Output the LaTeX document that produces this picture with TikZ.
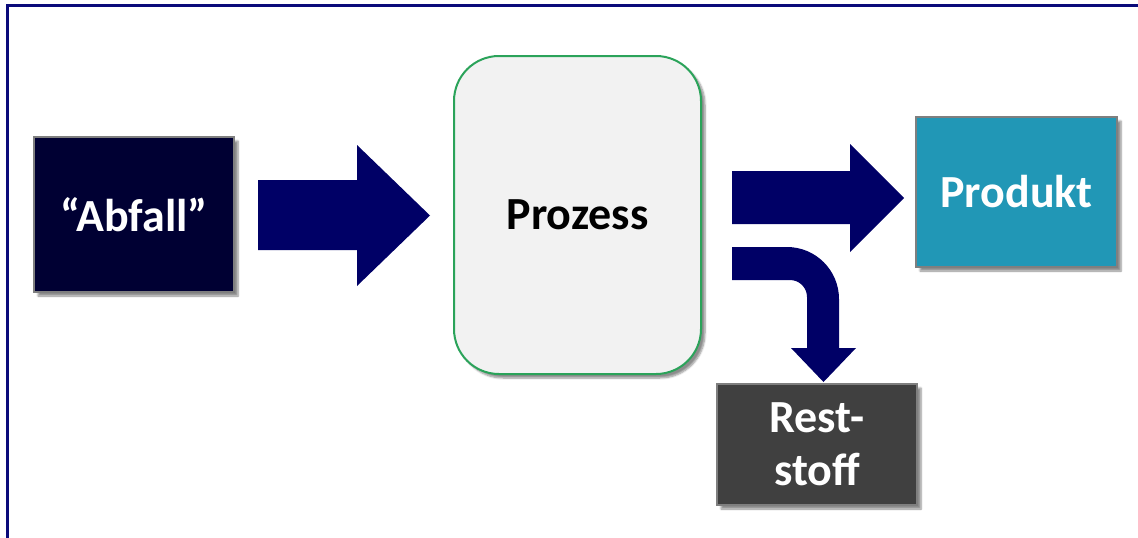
\documentclass[tikz,border=0pt]{standalone}
\usepackage{fontspec}
\setmainfont{Carlito}
\usetikzlibrary{shadows.blur}

\definecolor{framenavy}{HTML}{0A0A7A}
\definecolor{arrownavy}{HTML}{000066}
\definecolor{inputfill}{HTML}{000033}
\definecolor{boxedge}{HTML}{7F7F7F}
\definecolor{procfill}{HTML}{F2F2F2}
\definecolor{procedge}{HTML}{2BA35A}
\definecolor{prodfill}{HTML}{2197B6}
\definecolor{restfill}{HTML}{404040}

\tikzset{
  boxtext/.style={font=\fontsize{46}{53}\selectfont\bfseries, align=center, inner sep=0pt},
  flowbox/.style={boxtext, draw=boxedge, line width=2pt, text=white,
    blur shadow={shadow xshift=4pt, shadow yshift=-4pt, shadow blur steps=6, shadow opacity=45}},
  procbox/.style={boxtext, draw=procedge, fill=procfill, line width=2pt, rounded corners=45pt,
    blur shadow={shadow xshift=4pt, shadow yshift=-4pt, shadow blur steps=6, shadow opacity=45}},
  blockarrow/.style={fill=arrownavy, draw=none},
  framelines/.style={draw=framenavy, line width=3pt},
}

\begin{document}
\begin{tikzpicture}[x=1pt, y=-1pt]
  \useasboundingbox (0,0) rectangle (1138,538);
  % outer frame (top and left edges)
  \draw[framelines] (1138,5) -- (7,5) -- (7,538);

  % boxes
  \node[flowbox, fill=inputfill, minimum width=200pt, minimum height=155pt]
    (abfall) at (134,214.5) {“Abfall”};
  \node[procbox, minimum width=247pt, minimum height=318pt]
    (prozess) at (577.5,215) {\raisebox{-3pt}{Prozess}};
  \node[flowbox, fill=prodfill, minimum width=201pt, minimum height=150pt]
    (produkt) at (1016.5,192) {Produkt};
  \node[flowbox, fill=restfill, minimum width=200pt, minimum height=121pt]
    (rest) at (817,444.5) {Rest-\\stoff};

  % block arrow: input -> process
  \fill[blockarrow] (258,180) -- (357,180) -- (357,145) -- (430,215.5)
    -- (357,286) -- (357,250) -- (258,250) -- cycle;

  % block arrow: process -> product
  \fill[blockarrow] (732,171) -- (850,171) -- (850,144) -- (904,198)
    -- (850,252) -- (850,224) -- (732,224) -- cycle;

  % bent block arrow: process -> residue
  \fill[blockarrow] (732,247) -- (787,247)
    .. controls (815.7,247) and (839,270.3) .. (839,299)
    -- (839,348) -- (856,348) -- (823.5,382) -- (791,348) -- (807,348)
    -- (807,297)
    .. controls (807,287.6) and (799.4,280) .. (790,280)
    -- (732,280) -- cycle;
\end{tikzpicture}
\end{document}
